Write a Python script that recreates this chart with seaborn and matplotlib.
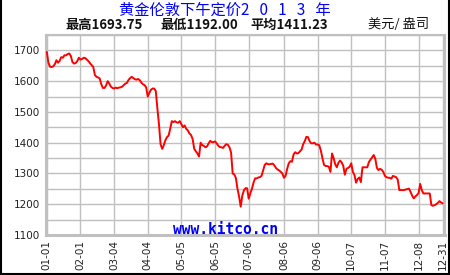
import matplotlib
matplotlib.use("Agg")
import matplotlib.pyplot as plt
from matplotlib.lines import Line2D
import seaborn as sns
import pandas as pd

# ---- data ----
prices = [
    1695, 1660, 1647, 1646, 1648, 1655, 1668, 1660, 1666, 1678,
    1676, 1684, 1684, 1688, 1690, 1682, 1662, 1657, 1659, 1665,
    1676, 1670, 1672, 1676, 1675, 1670, 1665, 1658, 1652, 1646,
    1620, 1614, 1612, 1609, 1590, 1578, 1578, 1586, 1600, 1592,
    1582, 1578, 1576, 1579, 1577, 1579, 1580, 1582, 1587, 1592,
    1594, 1604, 1610, 1614, 1610, 1606, 1605, 1607, 1603, 1595,
    1590, 1587, 1580, 1550, 1562, 1572, 1576, 1576, 1568, 1512,
    1460, 1395, 1380, 1392, 1408, 1418, 1423, 1445, 1470, 1467,
    1470, 1466, 1465, 1470, 1460, 1450, 1456, 1445, 1440, 1430,
    1425, 1412, 1380, 1372, 1365, 1355, 1400, 1392, 1390, 1385,
    1388, 1398, 1406, 1402, 1402, 1404, 1398, 1390, 1386, 1385,
    1383, 1390, 1395, 1393, 1385, 1368, 1300, 1297, 1285, 1250,
    1225, 1192, 1228, 1245, 1252, 1252, 1218, 1235, 1250, 1270,
    1284, 1284, 1287, 1288, 1292, 1310, 1328, 1333, 1330, 1330,
    1331, 1332, 1326, 1318, 1313, 1310, 1305, 1300, 1286, 1292,
    1315, 1333, 1340, 1338, 1362, 1369, 1365, 1366, 1372, 1378,
    1395, 1405, 1419, 1418, 1405, 1398, 1398, 1400, 1394, 1394,
    1392, 1375, 1350, 1328, 1324, 1324, 1322, 1305, 1365, 1350,
    1330, 1320, 1335, 1342, 1336, 1325, 1296, 1315, 1318, 1322,
    1333, 1305, 1295, 1270, 1282, 1287, 1272, 1320, 1320, 1320,
    1320, 1337, 1345, 1352, 1360, 1348, 1318, 1311, 1315, 1312,
    1305, 1292, 1288, 1286, 1286, 1283, 1292, 1290, 1288, 1280,
    1246, 1246, 1246, 1246, 1248, 1249, 1251, 1240, 1228, 1219,
    1225, 1230, 1236, 1266, 1246, 1235, 1235, 1235, 1235, 1235,
    1197, 1195, 1197, 1200, 1204, 1210, 1206, 1203,
]
tick_idx = [0, 21, 42, 63, 84, 105, 126, 148, 169, 190, 211, 232, 247]
tick_labels = ["01-01", "02-01", "03-04", "04-04", "05-05", "06-05", "07-06",
               "08-06", "09-06", "10-07", "11-07", "12-08", "12-31"]
y_ticks = [1100, 1200, 1300, 1400, 1500, 1600, 1700]
title = "黄金伦敦下午定价2   0   1   3   年"
stat_labels = ["最高1693.75", "最低1192.00", "平均1411.23"]
unit_label = "美元/ 盎司"
watermark = "www.kitco.cn"

df = pd.DataFrame({"day": range(len(prices)), "price": prices})

sns.set_theme(style="white")
plt.rcParams["font.family"] = ["Noto Sans CJK SC", "DejaVu Sans"]

W, H = 450, 275
fig = plt.figure(figsize=(W / 100, H / 100), dpi=100, facecolor="white")
ax = fig.add_axes([46 / W, 1 - 235 / H, (445 - 46) / W, (235 - 35) / H])
ax.set_facecolor("white")

sns.lineplot(data=df, x="day", y="price", ax=ax, color="#ff0000",
             linewidth=1.4, zorder=3)

ax.set_xlim(-0.5, 248.5)
ax.set_ylim(1100, 1750)
ax.set_xticks(tick_idx)
ax.set_xticklabels(tick_labels, rotation=90, fontsize=7.5,
                   family="DejaVu Sans", color="#222222")
ax.set_yticks(range(1100, 1751, 50))
ax.set_yticklabels([str(v) if v in y_ticks else "" for v in range(1100, 1751, 50)],
                   fontsize=7.5, family="DejaVu Sans", color="#222222")
ax.tick_params(axis="both", length=0)
ax.tick_params(axis="y", pad=4)
ax.tick_params(axis="x", pad=3.5)
ax.set_xlabel("")
ax.set_ylabel("")
ax.grid(True, color="#c0c0c0", linewidth=1.0)
ax.set_axisbelow(True)
for side, lw in (("left", 2.2), ("bottom", 2.2), ("top", 1.5), ("right", 1.5)):
    ax.spines[side].set_visible(True)
    ax.spines[side].set_color("#c0c0c0")
    ax.spines[side].set_linewidth(lw)

fig.text(225 / W, 1 - 10 / H, title, ha="center", va="center",
         fontsize=11, color="#0000ff")
for txt, x in zip(stat_labels, [65, 160, 250]):
    fig.text(x / W, 1 - 24.5 / H, txt, ha="left", va="center",
             fontsize=9.5, fontweight="bold", color="#111111")
fig.text(368 / W, 1 - 24.5 / H, unit_label, ha="left", va="center",
         fontsize=9.5, color="#111111")
fig.text(225.5 / W, 1 - 234 / H, watermark, ha="center", va="baseline",
         fontsize=10.5, fontweight="bold", family="DejaVu Sans Mono",
         color="#0000ff", zorder=5)

# outer frame (left, right, bottom)
for xs, ys in (([0.5 / W, 0.5 / W], [0, 1]),
               ([1 - 1 / W, 1 - 1 / W], [0, 1]),
               ([0, 1], [1 / H, 1 / H])):
    fig.add_artist(Line2D(xs, ys, transform=fig.transFigure,
                          color="black", linewidth=1.5))

fig.savefig("out.png", dpi=100, facecolor="white")
